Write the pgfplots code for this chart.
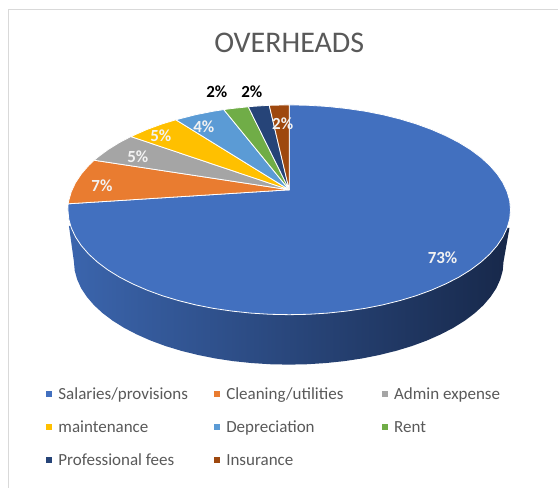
\documentclass[border=0pt]{standalone}
\usepackage{pgfplots}
\pgfplotsset{compat=1.18}
\usepackage{fontspec}
\setmainfont{Carlito}
\definecolor{cBlue}{HTML}{4270BF}
\definecolor{cOrange}{HTML}{E97C30}
\definecolor{cGray}{HTML}{A5A5A5}
\definecolor{cYellow}{HTML}{FFC000}
\definecolor{cLBlue}{HTML}{5B9BD5}
\definecolor{cGreen}{HTML}{70AD47}
\definecolor{cNavy}{HTML}{264478}
\definecolor{cBrown}{HTML}{9E480E}
\definecolor{cText}{HTML}{595959}
\definecolor{cFrame}{HTML}{D9D9D9}
\definecolor{sideL}{HTML}{3B65AD}
\definecolor{sideM}{HTML}{233C6C}
\definecolor{sideR}{HTML}{17284A}
\newcommand{\lgA}[1]{\makebox[158pt][l]{\hspace{4.5pt}\rule[-5pt]{0pt}{17pt}\textcolor{cText}{#1}}}
\begin{document}
\begin{tikzpicture}
\begin{axis}[
  at={(0,0)}, anchor=south west,
  width=559pt, height=488pt, scale only axis,
  xmin=0, xmax=559, ymin=0, ymax=488, y dir=reverse,
  hide axis, clip=false,
  legend columns=3,
  legend image code/.code={\fill[#1,draw=none] (0pt,-3pt) rectangle (6pt,3pt);},
  legend cell align=left,
  legend style={at={(0.0823,0.209)}, anchor=north west, draw=none, fill=none,
    inner sep=0pt, outer sep=0pt, row sep=15.5pt,
    font=\fontsize{17}{17}\selectfont},
]
% page extent
\addplot[draw=none, forget plot] coordinates {(0,0)(559,488)};
% frame
\addplot[cFrame, line width=1.1pt, forget plot] coordinates {(8.5,488)(8.5,9.5)(559,9.5)};
% side of the pie
\addplot[draw=none, left color=sideL, middle color=sideM, right color=sideR, forget plot] coordinates {
(510,228)(504,262)(503.2,271)(500.7,279.9)(496.7,288.7)(491,297.2)(483.9,305.5)(475.2,313.5)(465.1,321.1)(453.7,328.2)(441,334.8)(427.2,340.9)(412.3,346.4)(396.5,351.2)(379.9,355.3)(362.5,358.8)(344.6,361.5)(326.3,363.4)(307.7,364.6)(289,365)(270.3,364.6)(251.7,363.4)(233.4,361.5)(215.5,358.8)(198.1,355.3)(181.5,351.2)(165.7,346.4)(150.8,340.9)(137,334.8)(124.3,328.2)(112.9,321.1)(102.8,313.5)(94.1,305.5)(87,297.2)(81.3,288.7)(77.3,279.9)(74.8,271)(74,262)(69,226)
} --cycle;
% Salaries/provisions 73
\addplot[fill=cBlue, draw=white, line width=0.8pt, line join=round] coordinates {
(289.5,190)(68.2,204)(68,210)(68.8,219.2)(71.4,228.2)(75.6,237.2)(81.4,245.9)(88.8,254.4)(97.7,262.5)(108,270.2)(119.8,277.5)(132.9,284.2)(147.1,290.4)(162.4,296)(178.7,300.9)(195.9,305.2)(213.7,308.7)(232.2,311.4)(251,313.4)(270.2,314.6)(289.5,315)(308.8,314.6)(328,313.4)(346.8,311.4)(365.3,308.7)(383.1,305.2)(400.3,300.9)(416.6,296)(431.9,290.4)(446.1,284.2)(459.2,277.5)(471,270.2)(481.3,262.5)(490.2,254.4)(497.6,245.9)(503.4,237.2)(507.6,228.2)(510.2,219.2)(511,210)(510.2,200.8)(507.6,191.8)(503.4,182.8)(497.6,174.1)(490.2,165.6)(481.3,157.5)(471,149.8)(459.2,142.5)(446.1,135.8)(431.9,129.6)(416.6,124)(400.3,119.1)(383.1,114.8)(365.3,111.3)(346.8,108.6)(328,106.6)(308.8,105.4)(289.5,105)
} --cycle;
\addlegendentry{\lgA{Salaries/provisions}}
% Cleaning/utilities 7
\addplot[fill=cOrange, draw=white, line width=0.8pt, line join=round] coordinates {
(289.5,190)(94.3,160.4)(88.8,165.6)(81.4,174.1)(75.6,182.8)(71.4,191.8)(68.8,200.8)(68.2,204)
} --cycle;
\addlegendentry{\lgA{Cleaning/utilities}}
% Admin expense 5
\addplot[fill=cGray, draw=white, line width=0.8pt, line join=round] coordinates {
(289.5,190)(131,136.7)(119.8,142.5)(108,149.8)(97.7,157.5)(94.3,160.4)
} --cycle;
\addlegendentry{\lgA{Admin expense}}
% maintenance 5
\addplot[fill=cYellow, draw=white, line width=0.8pt, line join=round] coordinates {
(289.5,190)(176,119.9)(162.4,124)(147.1,129.6)(131,136.7)
} --cycle;
\addlegendentry{\lgA{maintenance}}
% Depreciation 4
\addplot[fill=cLBlue, draw=white, line width=0.8pt, line join=round] coordinates {
(289.5,190)(224,109.7)(213.7,111.3)(195.9,114.8)(176,119.9)
} --cycle;
\addlegendentry{\lgA{Depreciation}}
% Rent 2
\addplot[fill=cGreen, draw=white, line width=0.8pt, line join=round] coordinates {
(289.5,190)(248.5,106.9)(232.2,108.6)(224,109.7)
} --cycle;
\addlegendentry{\lgA{Rent}}
% Professional fees 2
\addplot[fill=cNavy, draw=white, line width=0.8pt, line join=round] coordinates {
(289.5,190)(269.5,105.4)(251,106.6)(248.5,106.9)
} --cycle;
\addlegendentry{\lgA{Professional fees}}
% Insurance 2
\addplot[fill=cBrown, draw=white, line width=0.8pt, line join=round] coordinates {
(289.5,190)(289.5,105)(269.5,105.4)
} --cycle;
\addlegendentry{\lgA{Insurance}}
% texts
\node[text=cText, font=\fontsize{30}{34}\selectfont] at (axis cs:289.5,43) {OVERHEADS};
\tikzset{dl/.style={font=\fontsize{17}{17}\selectfont\bfseries, inner sep=0pt}}
\node[dl,text=white!95!black] at (axis cs:443,258) {73\%};
\node[dl,text=white!95!black] at (axis cs:102,186) {7\%};
\node[dl,text=white!95!black] at (axis cs:138,157) {5\%};
\node[dl,text=white!95!black] at (axis cs:161,136) {5\%};
\node[dl,text=white!95!black] at (axis cs:204,127) {4\%};
\node[dl,text=white!95!black] at (axis cs:283,124) {2\%};
\node[dl,text=black] at (axis cs:217,92) {2\%};
\node[dl,text=black] at (axis cs:252,92) {2\%};
\end{axis}
\end{tikzpicture}
\end{document}
